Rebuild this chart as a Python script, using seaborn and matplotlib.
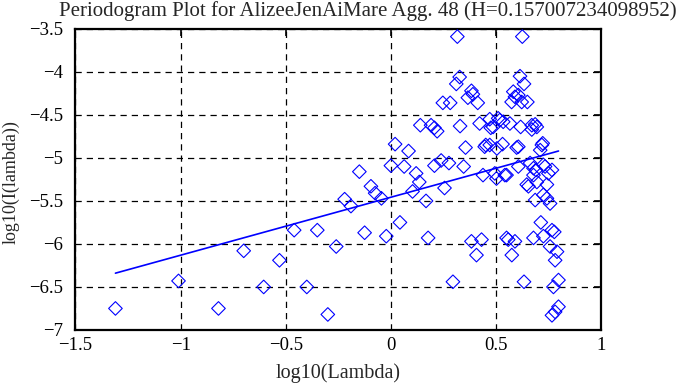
import numpy as np
import pandas as pd
import matplotlib
matplotlib.use("Agg")
import matplotlib.pyplot as plt
import seaborn as sns

# periodogram points (log10 lambda, log10 I)
log_lambda = [-1.31, -1.01, -0.82, -0.70, -0.605, -0.53, -0.46, -0.40, -0.35, -0.30,
              -0.26, -0.22, -0.19, -0.15, -0.125, -0.095, -0.075, -0.045, -0.022, 0.0,
              0.02, 0.043, 0.063, 0.084, 0.103, 0.12, 0.14, 0.135, 0.167, 0.177,
              0.191, 0.207, 0.22, 0.207, 0.239, 0.247, 0.255, 0.282, 0.276, 0.295,
              0.316, 0.311, 0.327, 0.329, 0.366, 0.383, 0.39, 0.413, 0.355, 0.346,
              0.383, 0.407, 0.431, 0.422, 0.446, 0.438, 0.47, 0.47, 0.475, 0.486,
              0.51, 0.504, 0.494, 0.502, 0.531, 0.518, 0.534, 0.566, 0.542, 0.55,
              0.558, 0.59, 0.575, 0.55, 0.574, 0.59, 0.582, 0.606, 0.614, 0.633,
              0.622, 0.649, 0.625, 0.617, 0.67, 0.686, 0.67, 0.598, 0.722, 0.71,
              0.606, 0.662, 0.725, 0.766, 0.69, 0.678, 0.749, 0.654, 0.742, 0.686,
              0.725, 0.757, 0.742, 0.713, 0.766, 0.777, 0.678, 0.725, 0.757, 0.79,
              0.781, 0.633, 0.797, 0.773, 0.766, 0.797, 0.781, 0.694, 0.733, 0.678,
              0.694, 0.718, 0.451, 0.606, 0.646]
log_power = [-6.75, -6.43, -6.75, -6.08, -6.50, -6.19, -5.84, -6.50, -5.84, -6.82,
             -6.03, -5.48, -5.56, -5.16, -5.87, -5.33, -5.41, -5.47, -5.91, -5.09,
             -4.84, -5.75, -5.10, -4.92, -5.39, -5.18, -4.62, -5.28, -5.50, -5.93,
             -4.62, -4.65, -4.69, -5.09, -5.03, -4.36, -5.35, -4.36, -5.06, -6.44,
             -3.59, -4.14, -4.06, -4.63, -4.30, -4.22, -4.26, -4.36, -4.88, -5.10,
             -5.97, -6.13, -5.95, -4.60, -4.87, -5.20, -4.55, -4.85, -4.65, -4.64,
             -4.54, -4.89, -5.18, -5.24, -4.84, -4.56, -4.58, -4.60, -5.20, -5.20,
             -5.95, -5.97, -6.13, -5.93, -4.35, -4.29, -4.23, -4.27, -4.05, -4.14,
             -4.35, -4.35, -3.59, -4.64, -4.62, -4.61, -4.67, -4.88, -4.83, -4.91,
             -5.10, -5.06, -5.08, -5.14, -5.14, -5.20, -5.18, -5.33, -5.31, -5.49,
             -5.43, -5.53, -5.47, -5.75, -5.84, -5.86, -5.93, -5.91, -6.03, -6.09,
             -6.19, -6.44, -6.42, -6.50, -6.83, -6.73, -6.79, -5.28, -5.10, -5.12,
             -4.64, -4.85, -4.85, -4.87, -5.31]

# least-squares line ends as drawn
fit_x = [-1.31, 0.797]
fit_y = [-6.34, -4.92]

title = "Periodogram Plot for AlizeeJenAiMare Agg. 48 (H=0.157007234098952)"
x_ticks = [-1.5, -1, -0.5, 0, 0.5, 1]
y_ticks = [-7, -6.5, -6, -5.5, -5, -4.5, -4, -3.5]

df = pd.DataFrame({"x": log_lambda, "y": log_power})
fit = pd.DataFrame({"x": fit_x, "y": fit_y})

sns.set_style("white")
plt.rcParams["font.family"] = ["Liberation Serif", "DejaVu Serif"]
plt.rcParams["axes.unicode_minus"] = True

fig, ax = plt.subplots(figsize=(6.77, 3.85), dpi=100)
fig.subplots_adjust(left=0.1115, right=0.888, bottom=0.143, top=0.925)

sns.scatterplot(data=df, x="x", y="y", marker="D", s=48, facecolor="none",
                edgecolor="#0000ff", linewidth=0.8, ax=ax, zorder=3)
sns.lineplot(data=fit, x="x", y="y", color="#0000ff", linewidth=1.2, ax=ax, zorder=4)

ax.set_xlim(-1.5, 1)
ax.set_ylim(-7, -3.5)
ax.set_xticks(x_ticks)
ax.set_yticks(y_ticks)
ax.set_xticklabels([f"{t:g}".replace("-", "\u2212") for t in x_ticks])
ax.set_yticklabels([f"{t:g}".replace("-", "\u2212") for t in y_ticks])
ax.grid(True, color="black", linestyle=(0, (5, 4)), linewidth=0.9)
ax.tick_params(direction="in", length=5, width=1.2, top=True, right=True,
               labelsize=13.5, colors="black")
ax.tick_params(axis="y", pad=9)
ax.tick_params(axis="x", pad=5)
for sp in ax.spines.values():
    sp.set_color("black")
    sp.set_linewidth(1.6)

ax.set_xlabel("log10(Lambda)", fontsize=14.5, labelpad=7)
ax.set_ylabel("log10(I(lambda))", fontsize=13, va="center")
ax.yaxis.set_label_coords(-0.123, 0.49)
fig.text(368 / 677, 1 - 1 / 385, title, ha="center", va="top", fontsize=15)

fig.savefig("out.png", dpi=100)
